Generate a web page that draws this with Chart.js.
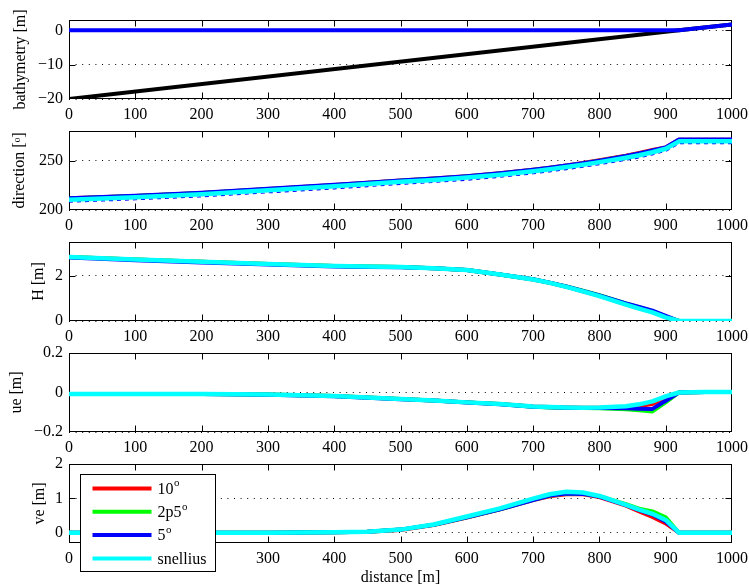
<!DOCTYPE html>
<html><head><meta charset="utf-8">
<script src="https://cdn.jsdelivr.net/npm/chart.js@4/dist/chart.umd.min.js"></script>
<style>
html,body{margin:0;padding:0;background:#fff;}
#wrap{position:relative;width:749px;height:587px;overflow:hidden;background:#fff;}
#wrap canvas{position:absolute;left:0;}
</style></head><body>
<div id="wrap">
<canvas id="c0"></canvas><canvas id="c1"></canvas><canvas id="c2"></canvas><canvas id="c3"></canvas><canvas id="c4"></canvas>
</div>
<script>
// ---------------- data ----------------
const xTicks = [0,100,200,300,400,500,600,700,800,900,1000];

const bathyDistance = [0, 920, 1000];
const bathymetry    = [-20, 0, 1.7];
const waterLevel    = [0, 0, 1.7];
const bathyTicks    = [-20, -10, 0];

const distance = [0,100,200,300,400,450,500,550,600,650,700,725,750,775,800,840,860,880,900,920,960,1000];

const seriesLabels = ['10ᵒ','2p5ᵒ','5ᵒ','snellius'];

const dir10     = [211.8,214.3,217.3,221.3,225.3,227.6,229.8,231.8,234.1,237.1,240.8,242.8,245,247.5,250.3,255,257.8,260.8,263.4,271.2,271.2,271.2];
const dir2p5    = [211.6,214.1,217.1,221.1,225.1,227.4,229.6,231.6,233.9,236.9,240.6,242.6,244.8,247.2,249.9,254.4,257.1,260,262.6,271,271,271];
const dir5      = [212,214.5,217.5,221.5,225.5,227.7,229.9,231.9,234.2,237.2,240.8,242.8,245,247.4,250,254.6,257.3,260.3,263.3,271.4,271.4,271.4];
const dirSnell  = [210.5,213,216,220,224,226.3,228.5,230.5,232.8,235.8,239.3,241.3,243.5,245.9,248.5,253,255.5,258.5,262,269.5,269.5,269.5];
const dirDashed = [208,210.4,213.4,217.4,221.4,223.7,225.9,227.9,230.2,233.2,236.7,238.7,240.9,243.3,245.9,250.4,252.9,255.9,259.4,267.2,267.2,267.2];
const dirTicks  = [200, 250];

const H10    = [2.84,2.72,2.62,2.53,2.44,2.41,2.39,2.34,2.26,2.06,1.84,1.69,1.52,1.32,1.11,0.74,0.56,0.39,0.17,0,0,0];
const H2p5   = [2.84,2.72,2.62,2.53,2.44,2.41,2.39,2.34,2.26,2.06,1.85,1.70,1.53,1.34,1.14,0.78,0.61,0.44,0.21,0,0,0];
const H5     = [2.81,2.69,2.59,2.50,2.41,2.39,2.38,2.34,2.26,2.06,1.85,1.70,1.53,1.33,1.13,0.78,0.62,0.46,0.23,0,0,0];
const HSnell = [2.84,2.72,2.62,2.53,2.44,2.41,2.39,2.34,2.26,2.06,1.84,1.69,1.51,1.31,1.10,0.73,0.55,0.38,0.16,0,0,0];
const HTicks = [0, 2];

const ue10    = [-0.008,-0.008,-0.008,-0.01,-0.018,-0.025,-0.033,-0.04,-0.05,-0.058,-0.071,-0.074,-0.076,-0.077,-0.077,-0.074,-0.068,-0.058,-0.03,0,0.002,0.003];
const ue2p5   = [-0.008,-0.008,-0.008,-0.01,-0.018,-0.025,-0.033,-0.04,-0.05,-0.058,-0.072,-0.076,-0.078,-0.079,-0.08,-0.085,-0.09,-0.096,-0.05,0,0.002,0.003];
const ue5     = [-0.008,-0.008,-0.008,-0.011,-0.019,-0.026,-0.034,-0.041,-0.051,-0.059,-0.072,-0.075,-0.077,-0.078,-0.078,-0.08,-0.082,-0.083,-0.042,0,0.002,0.003];
const ueSnell = [-0.008,-0.008,-0.008,-0.01,-0.018,-0.025,-0.033,-0.04,-0.05,-0.058,-0.071,-0.074,-0.076,-0.077,-0.076,-0.07,-0.06,-0.045,-0.02,0,0.002,0.003];
const ueTicks = [-0.2, 0, 0.2];

const ve10    = [0,0,0,0,0.01,0.03,0.08,0.22,0.44,0.68,0.95,1.06,1.12,1.12,1.04,0.79,0.62,0.46,0.27,0,0,0];
const ve2p5   = [0,0,0,0,0.01,0.03,0.09,0.23,0.45,0.68,0.96,1.08,1.14,1.13,1.06,0.83,0.70,0.62,0.45,0,0,0];
const ve5     = [0,0,0,0,0.01,0.03,0.09,0.23,0.45,0.68,0.95,1.08,1.14,1.13,1.05,0.80,0.66,0.53,0.33,0,0,0];
const veSnell = [0,0,0,0,0.01,0.03,0.09,0.24,0.47,0.71,0.99,1.12,1.19,1.17,1.07,0.81,0.67,0.55,0.37,0,0,0];
const veTicks = [0, 1, 2];

// ---------------- styling / layout ----------------
const FONT = {family:'"Liberation Serif", "Times New Roman", serif', size:16};
Chart.defaults.font.family = FONT.family;
Chart.defaults.font.size = FONT.size;
Chart.defaults.color = '#000';

const PLOT_LEFT = 69, PLOT_RIGHT = 732, PLOT_H = 79, PAD_TOP = 12, W = 749;
const panelTops = [20, 131, 242, 353, 464];
const seriesColors = ['#ff0000', '#00ff00', '#0000ff', '#00ffff'];

function pts(xs, ys){ return xs.map((x,i)=>({x:x, y:ys[i]})); }
function fmt(v){ const a = Math.abs(v); return (v < 0 ? '\u2212' : '') + String(Math.round(a*1000)/1000); }

const framePlugin = {
  id:'frame',
  beforeDatasetsDraw(chart){
    const ctx = chart.ctx, ca = chart.chartArea;
    const L = Math.round(ca.left)+0.5, R = Math.round(ca.right)-0.5, T = Math.round(ca.top)+0.5, B = Math.round(ca.bottom)-0.5;
    ctx.save();
    ctx.strokeStyle = '#000'; ctx.lineWidth = 1;
    ctx.strokeRect(L, T, R-L, B-T);
    const tl = 6;
    ctx.beginPath();
    const xs = chart.scales.x, ys = chart.scales.y;
    xs.ticks.forEach(t => {
      const px = Math.round(xs.getPixelForValue(t.value)) + 0.5;
      if (px <= L+1 || px >= R-1) return;
      ctx.moveTo(px, T); ctx.lineTo(px, T+tl);
      ctx.moveTo(px, B); ctx.lineTo(px, B-tl);
    });
    ys.ticks.forEach(t => {
      const py = Math.round(ys.getPixelForValue(t.value)) + 0.5;
      if (py <= T+1 || py >= B-1) return;
      ctx.moveTo(L, py); ctx.lineTo(L+tl, py);
      ctx.moveTo(R, py); ctx.lineTo(R-tl, py);
    });
    ctx.stroke();
    ctx.restore();
  }
};

function drawLabel(ctx, text, x, y){
  // render trailing modifier 'ᵒ' as a raised small o
  if (text.endsWith('ᵒ')) {
    const base = text.slice(0, -1);
    ctx.font = '16px ' + FONT.family;
    ctx.fillText(base, x, y);
    const w = ctx.measureText(base).width;
    ctx.font = '11px ' + FONT.family;
    ctx.fillText('o', x + w + 0.5, y - 6);
  } else {
    ctx.font = '16px ' + FONT.family;
    ctx.fillText(text, x, y);
  }
}

const legendPlugin = {
  id:'matlabLegend',
  afterDraw(chart){
    const ctx = chart.ctx, ca = chart.chartArea;
    const x0 = Math.round(ca.left) + 11.5, y0 = Math.round(ca.top) + 10.5, w = 135, h = 97;
    ctx.save();
    ctx.fillStyle = '#fff'; ctx.fillRect(x0, y0, w, h);
    ctx.strokeStyle = '#000'; ctx.lineWidth = 1; ctx.strokeRect(x0, y0, w, h);
    const items = chart.data.datasets.filter(d => d.inLegend);
    items.forEach((d, i) => {
      const yy = y0 + 14 + i * 23.3;
      ctx.strokeStyle = d.borderColor; ctx.lineWidth = 4;
      ctx.beginPath(); ctx.moveTo(x0 + 12, yy); ctx.lineTo(x0 + 71, yy); ctx.stroke();
      ctx.fillStyle = '#000'; ctx.textBaseline = 'middle'; ctx.textAlign = 'left';
      drawLabel(ctx, d.label, x0 + 77, yy + 1);
    });
    ctx.restore();
  }
};

function seriesDatasets(xs, arrays){
  return arrays.map((ys, i) => ({
    label: seriesLabels[i], inLegend: true,
    data: pts(xs, ys), borderColor: seriesColors[i],
    borderWidth: i === 3 ? 4.5 : 4, order: 3 - i + 1
  }));
}

function makeChart(idx, cfg){
  const last = idx === 4;
  const axisH = last ? (587 - (panelTops[idx] + PLOT_H)) : 26;
  const canvas = document.getElementById('c' + idx);
  const h = PAD_TOP + PLOT_H + axisH;
  canvas.width = W; canvas.height = h;
  canvas.style.width = W + 'px'; canvas.style.height = h + 'px';
  canvas.style.top = (panelTops[idx] - PAD_TOP) + 'px';
  return new Chart(canvas, {
    type:'line',
    data:{datasets: cfg.datasets},
    options:{
      responsive:false, animation:false, devicePixelRatio:1,
      layout:{padding:{left:0, right:W - PLOT_RIGHT, top:PAD_TOP, bottom:0}},
      plugins:{legend:{display:false}, tooltip:{enabled:false}},
      elements:{point:{radius:0, hoverRadius:0}, line:{tension:0, borderJoinStyle:'round', fill:false}},
      scales:{
        x:{
          type:'linear', min:0, max:1000,
          afterBuildTicks: s => { s.ticks = xTicks.map(v => ({value:v})); },
          afterFit: s => { s.height = axisH; s.paddingLeft = 0; s.paddingRight = 0; },
          grid:{display:false, drawTicks:false},
          border:{display:false},
          ticks:{padding:6, color:'#000', maxRotation:0, autoSkip:false, callback: v => fmt(v)},
          title: last ? {display:true, text:'distance [m]', color:'#000', padding:{top:0, bottom:0}} : {display:false}
        },
        y:{
          type:'linear', min:cfg.min, max:cfg.max,
          afterBuildTicks: s => { s.ticks = cfg.ticks.map(v => ({value:v})); },
          afterFit: s => { s.width = PLOT_LEFT; s.paddingTop = 0; s.paddingBottom = 0; },
          grid:{display:true, drawTicks:false, color:'#000', lineWidth:1},
          border:{display:false, dash:[1,5.6]},
          ticks:{padding:6, color:'#000', callback: v => fmt(v)},
          title:{display:true, text:cfg.label, color:'#000', padding:{top:cfg.titlePad, bottom:0}}
        }
      }
    },
    plugins: last ? [framePlugin, legendPlugin] : [framePlugin]
  });
}

makeChart(0, {
  label:'bathymetry [m]', min:-20, max:3, ticks:bathyTicks, titlePad:11,
  datasets:[
    {label:'bathymetry', data:pts(bathyDistance, bathymetry), borderColor:'#000000', borderWidth:4, order:2},
    {label:'water level', data:pts(bathyDistance, waterLevel), borderColor:'#0000ff', borderWidth:4, order:1}
  ]
});
makeChart(1, {
  label:'direction [ᵒ]', min:200, max:280, ticks:dirTicks, titlePad:10.5,
  datasets: seriesDatasets(distance, [dir10, dir2p5, dir5, dirSnell]).concat([
    {label:'', inLegend:false, data:pts(distance, dirDashed), borderColor:'#0000ff', borderWidth:1.2, borderDash:[4,4], order:5}
  ])
});
makeChart(2, {
  label:'H [m]', min:0, max:3.5, ticks:HTicks, titlePad:29,
  datasets: seriesDatasets(distance, [H10, H2p5, H5, HSnell])
});
makeChart(3, {
  label:'ue [m]', min:-0.2, max:0.2, ticks:ueTicks, titlePad:7,
  datasets: seriesDatasets(distance, [ue10, ue2p5, ue5, ueSnell])
});
makeChart(4, {
  label:'ve [m]', min:-0.3, max:2, ticks:veTicks, titlePad:30.5,
  datasets: seriesDatasets(distance, [ve10, ve2p5, ve5, veSnell])
});
</script>
</body></html>
